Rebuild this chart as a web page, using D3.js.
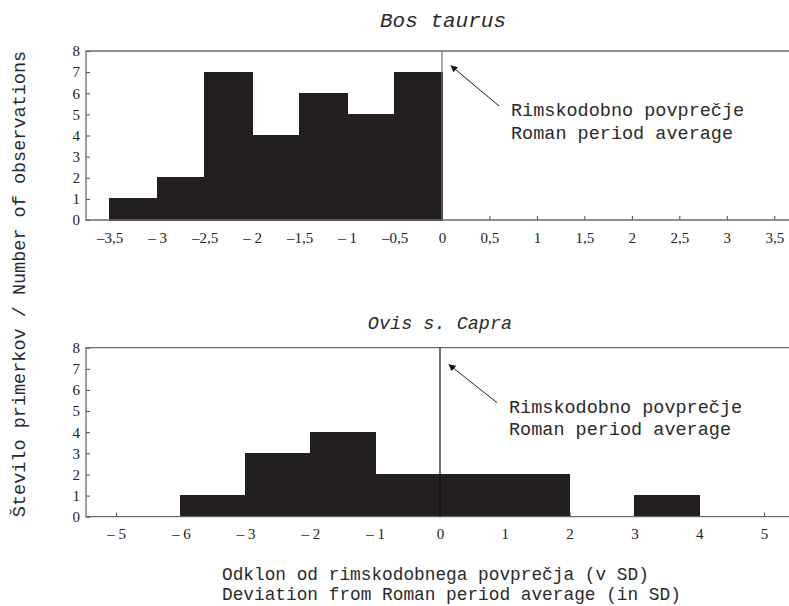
<!DOCTYPE html>
<html>
<head>
<meta charset="utf-8">
<script src="https://cdn.jsdelivr.net/npm/d3@7"></script>
<style>
  html, body { margin: 0; padding: 0; background: #fff; }
  svg { display: block; }
  .mono { font-family: "Liberation Mono", "Courier New", monospace; fill: #2a2a2a; }
  .tick text { font-family: "Liberation Serif", "Times New Roman", serif; font-size: 15px; fill: #222; }
</style>
</head>
<body>
<svg id="chart" width="789" height="606"></svg>
<script>
// Histogram bins: [from, to] in SD units, with counts
const bosBins   = [[-3.5, -3], [-3, -2.5], [-2.5, -2], [-2, -1.5], [-1.5, -1], [-1, -0.5], [-0.5, 0]];
const bosCounts = [1, 2, 7, 4, 6, 5, 7];
const bosTicks  = [-3.5, -3, -2.5, -2, -1.5, -1, -0.5, 0, 0.5, 1, 1.5, 2, 2.5, 3, 3.5];
const bosTickLabels = ["–3,5", "– 3", "–2,5", "– 2", "–1,5", "– 1", "–0,5", "0", "0,5", "1", "1,5", "2", "2,5", "3", "3,5"];

const ovisBins   = [[-4, -3], [-3, -2], [-2, -1], [-1, 0], [0, 1], [1, 2], [3, 4]];
const ovisCounts = [1, 3, 4, 2, 2, 2, 1];
const ovisTicks  = [-5, -4, -3, -2, -1, 0, 1, 2, 3, 4, 5];
const ovisTickLabels = ["– 5", "– 6", "– 3", "– 2", "– 1", "0", "1", "2", "3", "4", "5"];

const yTicks = [0, 1, 2, 3, 4, 5, 6, 7, 8];
const annotationLines = ["Rimskodobno povprečje", "Roman period average"];
const yTitle = "Število primerkov / Number of observations";
const xTitleLines = ["Odklon od rimskodobnega povprečja (v SD)", "Deviation from Roman period average (in SD)"];

const svg = d3.select("#chart");

// Arrowhead used by the "average" annotation
svg.append("defs").append("marker")
  .attr("id", "arrow")
  .attr("viewBox", "0 0 10 10")
  .attr("refX", 9).attr("refY", 5)
  .attr("markerWidth", 7).attr("markerHeight", 7)
  .attr("markerUnits", "userSpaceOnUse")
  .attr("orient", "auto")
  .append("path").attr("d", "M0,0 L10,5 L0,10 Z").attr("fill", "#111");

function panel(opt) {
  const x = d3.scaleLinear().domain(opt.xDomain).range([86, 798]);
  const y = d3.scaleLinear().domain([0, 8]).range([opt.bottom, opt.bottom - 169]);
  const g = svg.append("g");
  const frame = "#6b6b6b";

  // x axis with inward ticks (drawn before the bars, so bars hide them)
  const xa = g.append("g")
    .attr("transform", `translate(0,${opt.bottom})`)
    .call(d3.axisBottom(x).tickValues(opt.ticks)
      .tickFormat((d, i) => opt.tickLabels[i])
      .tickSizeInner(-4).tickSizeOuter(0).tickPadding(12));
  xa.select(".domain").remove();
  xa.selectAll(".tick line").attr("stroke", "#444");
  xa.selectAll(".tick text").attr("dy", "0.71em");

  // y axis
  const ya = g.append("g")
    .attr("transform", `translate(${x.range()[0]},0)`)
    .call(d3.axisLeft(y).tickValues(yTicks).tickSizeInner(-4).tickSizeOuter(0).tickPadding(6));
  ya.select(".domain").remove();
  ya.selectAll(".tick line").attr("stroke", "#444");

  // bars (same-colour outline so adjacent bins merge into one shape)
  g.selectAll("rect.bar").data(opt.bins).join("rect")
    .attr("class", "bar")
    .attr("x", d => x(d[0]))
    .attr("width", d => x(d[1]) - x(d[0]))
    .attr("y", (d, i) => y(opt.counts[i]))
    .attr("height", (d, i) => y(0) - y(opt.counts[i]))
    .attr("fill", "#231f20")
    .attr("stroke", "#231f20").attr("stroke-width", 1)
    .attr("shape-rendering", "crispEdges");

  // frame: left, top, bottom
  const [x0, x1] = x.range();
  g.append("path")
    .attr("d", `M${x1},${y(8)} H${x0} V${y(0)} H${x1}`)
    .attr("fill", "none").attr("stroke", frame).attr("stroke-width", 1.3);

  // vertical line at the Roman period average (0 SD)
  g.append("line")
    .attr("x1", x(0)).attr("x2", x(0))
    .attr("y1", y(8)).attr("y2", y(0))
    .attr("stroke", opt.meanColor).attr("stroke-width", 1.2);

  // annotation arrow + text
  g.append("line")
    .attr("x1", x(0) + 57).attr("y1", y(5.4))
    .attr("x2", x(0) + 9).attr("y2", y(opt.arrowTip))
    .attr("stroke", "#222").attr("stroke-width", 1)
    .attr("marker-end", "url(#arrow)");
  annotationLines.forEach((t, i) => {
    g.append("text").attr("class", "mono")
      .attr("x", x(0) + 69).attr("y", y(4.92) + i * 22.5)
      .attr("font-size", "18.5px")
      .text(t);
  });

  // panel title
  g.append("text").attr("class", "mono")
    .attr("x", opt.titleX).attr("y", opt.titleY)
    .attr("text-anchor", "middle")
    .attr("font-style", "italic")
    .attr("font-size", opt.titleSize)
    .text(opt.title);
}

panel({
  title: "Bos taurus", titleX: 443, titleY: 27, titleSize: "21px",
  bottom: 220, xDomain: [-3.75, 3.75],
  bins: bosBins, counts: bosCounts, ticks: bosTicks, tickLabels: bosTickLabels,
  meanColor: "#6b6b6b", arrowTip: 7.3
});

panel({
  title: "Ovis s. Capra", titleX: 440, titleY: 329, titleSize: "18.5px",
  bottom: 516.7, xDomain: [-5.463, 5.525],
  bins: ovisBins, counts: ovisCounts, ticks: ovisTicks, tickLabels: ovisTickLabels,
  meanColor: "#111", arrowTip: 7.2
});

// y axis title
svg.append("text").attr("class", "mono")
  .attr("transform", "translate(25,284) rotate(-90)")
  .attr("text-anchor", "middle")
  .attr("font-size", "18.5px")
  .text(yTitle);

// x axis title (two lines)
xTitleLines.forEach((t, i) => {
  svg.append("text").attr("class", "mono")
    .attr("x", 222).attr("y", 580 + i * 20)
    .attr("font-size", "17.8px")
    .text(t);
});
</script>
</body>
</html>
